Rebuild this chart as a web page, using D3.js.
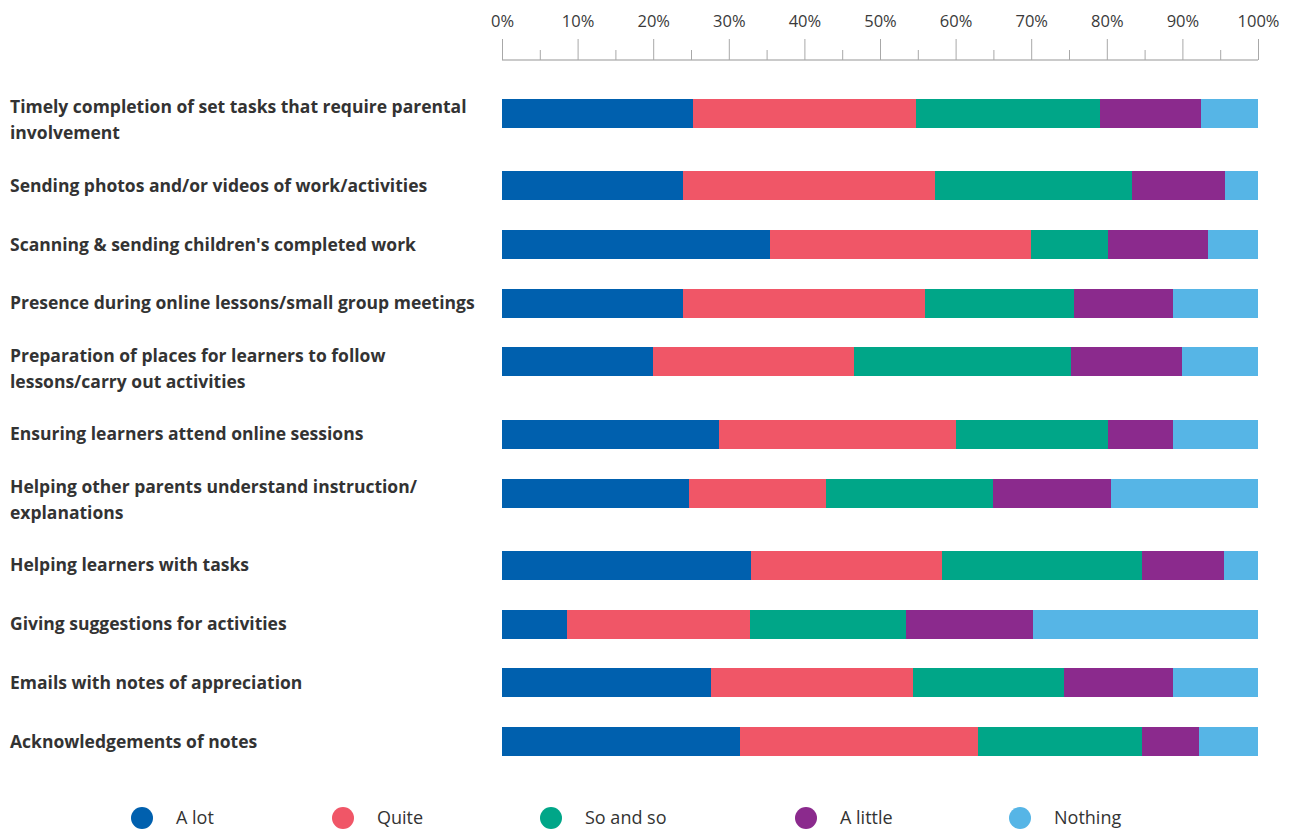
<!DOCTYPE html>
<html>
<head>
<meta charset="utf-8">
<script src="https://cdn.jsdelivr.net/npm/d3@7"></script>
<style>
  html, body { margin: 0; padding: 0; background: #fff; }
  svg { display: block; }
</style>
</head>
<body>
<svg id="chart" width="1293" height="830"></svg>
<script>
// Parental involvement activities, share of answers per level (percent)
const categories = [
  "Timely completion of set tasks that require parental\ninvolvement",
  "Sending photos and/or videos of work/activities",
  "Scanning & sending children's completed work",
  "Presence during online lessons/small group meetings",
  "Preparation of places for learners to follow\nlessons/carry out activities",
  "Ensuring learners attend online sessions",
  "Helping other parents understand instruction/\nexplanations",
  "Helping learners with tasks",
  "Giving suggestions for activities",
  "Emails with notes of appreciation",
  "Acknowledgements of notes"
];

const seriesNames = ["A lot", "Quite", "So and so", "A little", "Nothing"];

const aLot     = [25.3, 23.9, 35.4, 23.9, 20.0, 28.7, 24.7, 32.9,  8.6, 27.6, 31.5];
const quite    = [29.5, 33.4, 34.6, 32.1, 26.5, 31.4, 18.2, 25.3, 24.2, 26.7, 31.4];
const soAndSo  = [24.3, 26.0, 10.1, 19.7, 28.8, 20.0, 22.0, 26.4, 20.7, 20.0, 21.7];
const aLittle  = [13.3, 12.4, 13.3, 13.1, 14.7,  8.7, 15.6, 10.9, 16.8, 14.5,  7.6];
const nothing  = [ 7.6,  4.3,  6.6, 11.2, 10.0, 11.2, 19.5,  4.5, 29.7, 11.2,  7.8];

const tickValues = [0, 10, 20, 30, 40, 50, 60, 70, 80, 90, 100];
const minorTickValues = [5, 15, 25, 35, 45, 55, 65, 75, 85, 95];

const colors = ["#0060ae", "#f05667", "#00a688", "#8b2a8d", "#56b5e6"];

// legend slot positions (circle centres)
const legendSlots = [142, 343, 551, 806, 1020];

// ---- build table for stacking
const seriesValues = [aLot, quite, soAndSo, aLittle, nothing];
const table = categories.map((c, i) => {
  const row = { category: c };
  seriesNames.forEach((s, k) => { row[s] = seriesValues[k][i]; });
  return row;
});
const stacked = d3.stack().keys(seriesNames)(table);

const svg = d3.select("#chart");
const textColor = "#333333";
const fontFamily = "'Open Sans', Lato, sans-serif";

// ---- horizontal scale
const x = d3.scaleLinear().domain([0, 100]).range([502, 1258]);

// ---- vertical layout: rows with wrapped labels take a little more room
const lineCounts = categories.map(c => c.split("\n").length);
const rowUnits = [0];
for (let i = 1; i < categories.length; i++) {
  rowUnits.push(rowUnits[i - 1] + 1 + 0.23 * (lineCounts[i - 1] - 1));
}
const y = d3.scaleLinear()
  .domain([0, rowUnits[rowUnits.length - 1]])
  .range([113.5, 741.5]);
const barHeight = 29;

// ---- top axis
const axisY = 60;
const axis = d3.axisTop(x)
  .tickValues(tickValues)
  .tickSize(21)
  .tickPadding(8)
  .tickFormat(d => d + "%");
const axisG = svg.append("g").attr("transform", `translate(0,${axisY})`).call(axis);
axisG.select(".domain").attr("stroke", "#b8b8b8").attr("stroke-width", 1.5)
  .attr("d", `M${x(0)},0H${x(100)}`);
axisG.selectAll(".tick line").attr("stroke", "#a8a8a8").attr("stroke-width", 1);
axisG.selectAll(".tick text")
  .attr("fill", "#3a3a3a")
  .style("font-family", fontFamily)
  .style("font-size", "16.5px")
  .attr("y", -33);

const minorAxis = d3.axisTop(x).tickValues(minorTickValues).tickSize(10).tickFormat("");
const minorG = svg.append("g").attr("transform", `translate(0,${axisY})`).call(minorAxis);
minorG.select(".domain").remove();
minorG.selectAll(".tick line").attr("stroke", "#a8a8a8").attr("stroke-width", 1);

// ---- bars
svg.append("g")
  .selectAll("g")
  .data(stacked)
  .join("g")
  .attr("fill", (d, k) => colors[k])
  .selectAll("rect")
  .data(d => d)
  .join("rect")
  .attr("x", d => x(d[0]))
  .attr("width", d => x(d[1]) - x(d[0]))
  .attr("y", (d, i) => y(rowUnits[i]) - barHeight / 2)
  .attr("height", barHeight)
  .attr("shape-rendering", "crispEdges");

// ---- category labels
const labelG = svg.append("g")
  .style("font-family", fontFamily)
  .style("font-weight", "700")
  .style("font-size", "17.5px")
  .attr("fill", textColor);

categories.forEach((c, i) => {
  const lines = c.split("\n");
  const cy = y(rowUnits[i]);
  const first = lines.length > 1 ? cy - 6.5 : cy;
  const t = labelG.append("text").attr("x", 10);
  lines.forEach((ln, j) => {
    t.append("tspan")
      .attr("x", 10)
      .attr("y", first + j * 26)
      .attr("dy", "0.35em")
      .text(ln);
  });
});

// ---- legend
const legendY = 818;
const legendG = svg.append("g")
  .style("font-family", fontFamily)
  .style("font-size", "18px");
seriesNames.forEach((s, k) => {
  const lx = legendSlots[k];
  legendG.append("circle")
    .attr("cx", lx).attr("cy", legendY).attr("r", 11)
    .attr("fill", colors[k]);
  legendG.append("text")
    .attr("x", lx + 34).attr("y", legendY).attr("dy", "0.35em")
    .attr("fill", textColor)
    .text(s);
});
</script>
</body>
</html>
